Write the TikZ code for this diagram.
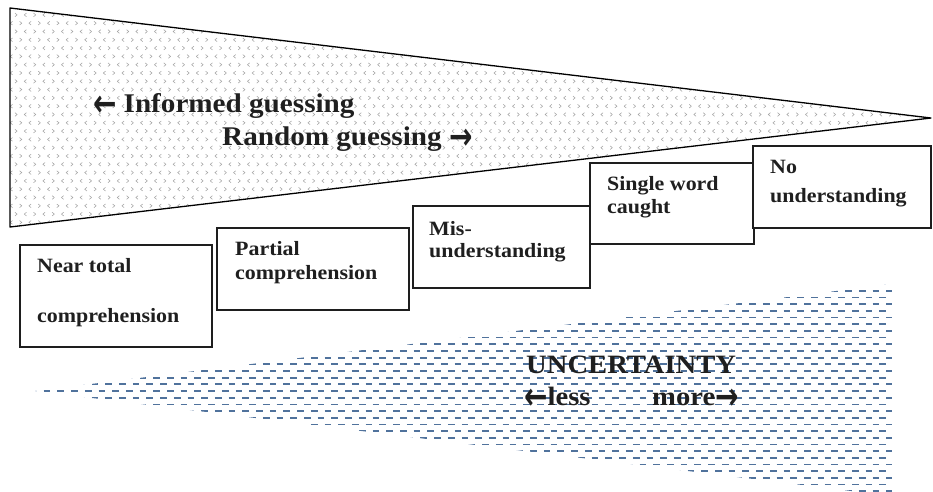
\documentclass[tikz,border=0pt]{standalone}
\usepackage{fontspec}
\setmainfont{Liberation Serif}[FakeStretch=1.08]
\newfontfamily\arrowfont{DejaVu Sans}
\usetikzlibrary{patterns}

% small grey chevrons used to shade the guessing wedge
\pgfdeclarepatternformonly{chevrons}{\pgfpoint{-1pt}{-1pt}}{\pgfpoint{19.6pt}{17.6pt}}{\pgfpoint{18.6pt}{16.6pt}}{%
  \pgfsetlinewidth{0.55pt}%
  % '>' and '<' in the lower row
  \pgfpathmoveto{\pgfpoint{1pt}{4.8pt}}\pgfpathlineto{\pgfpoint{3.2pt}{3pt}}\pgfpathlineto{\pgfpoint{1pt}{1.2pt}}%
  \pgfpathmoveto{\pgfpoint{12.5pt}{4.8pt}}\pgfpathlineto{\pgfpoint{10.3pt}{3pt}}\pgfpathlineto{\pgfpoint{12.5pt}{1.2pt}}%
  % '<' and '>' in the upper row
  \pgfpathmoveto{\pgfpoint{7.85pt}{13.1pt}}\pgfpathlineto{\pgfpoint{5.65pt}{11.3pt}}\pgfpathlineto{\pgfpoint{7.85pt}{9.5pt}}%
  \pgfpathmoveto{\pgfpoint{14.95pt}{13.1pt}}\pgfpathlineto{\pgfpoint{17.15pt}{11.3pt}}\pgfpathlineto{\pgfpoint{14.95pt}{9.5pt}}%
  \pgfusepath{stroke}%
}

\definecolor{dashblue}{RGB}{80,114,156}
\definecolor{boxline}{RGB}{30,30,30}

\tikzset{
  stage/.style={draw=boxline, line width=1.6pt, fill=white, inner sep=0pt, anchor=north west},
  stagetext/.style={font=\fontsize{20.3}{24}\selectfont\bfseries, text=black!88, anchor=base west, inner sep=0pt},
  headtext/.style={font=\fontsize{27}{32}\selectfont\bfseries, text=black!88, anchor=base west, inner sep=0pt},
  scaletext/.style={font=\fontsize{26.5}{32}\selectfont\bfseries, text=black!88, anchor=base west, inner sep=0pt},
  dashrow/.style={draw=dashblue, line width=1.7pt, dash pattern=on 6.7pt off 7pt}
}
\newcommand{\arrL}{\raisebox{-4.5pt}{\scalebox{1}[1.35]{\arrowfont\bfseries\fontsize{28}{30}\selectfont ←}}}
\newcommand{\arrR}{\raisebox{-4.5pt}{\scalebox{1}[1.35]{\arrowfont\bfseries\fontsize{28}{30}\selectfont →}}}

\begin{document}
\begin{tikzpicture}[x=1pt, y=-1pt]
\useasboundingbox (0,0) rectangle (933,491);

% guessing wedge
\draw[line width=1.3pt, line join=round, pattern=chevrons, pattern color=black!36]
  (10,8) -- (931,118) -- (10,227) -- cycle;

% uncertainty wedge, shaded with staggered blue dashes
\begin{scope}
  \clip (35,391) -- (892,284) -- (892,496) -- cycle;
  \foreach \m [evaluate=\m as \yy using {391+6.67*\m},
               evaluate=\m as \ph using {mod(abs(\m),2)*6.85}] in {-16,...,16}
    \draw[dashrow, dash phase=\ph pt] (30,\yy) -- (895,\yy);
\end{scope}

% stages of comprehension
\node[stage, minimum width=192pt, minimum height=102pt] (near)    at (19,244)  {};
\node[stage, minimum width=192pt, minimum height=82pt]  (partial) at (216,227) {};
\node[stage, minimum width=177pt, minimum height=82pt]  (mis)     at (412,205) {};
\node[stage, minimum width=164pt, minimum height=81pt]  (single)  at (589,162) {};
\node[stage, minimum width=178pt, minimum height=82pt]  (none)    at (752,145) {};

\node[stagetext] (near1)    at ([shift={(18,28)}]near.north west)    {Near total};
\node[stagetext] (near2)    at ([shift={(18,78)}]near.north west)    {comprehension};
\node[stagetext] (partial1) at ([shift={(19,28)}]partial.north west) {Partial};
\node[stagetext] (partial2) at ([shift={(19,52)}]partial.north west) {comprehension};
\node[stagetext] (mis1)     at ([shift={(17,30)}]mis.north west)     {Mis-};
\node[stagetext] (mis2)     at ([shift={(17,52)}]mis.north west)     {understanding};
\node[stagetext] (single1)  at ([shift={(18,28)}]single.north west)  {Single word};
\node[stagetext] (single2)  at ([shift={(18,51)}]single.north west)  {caught};
\node[stagetext] (none1)    at ([shift={(18,28)}]none.north west)    {No};
\node[stagetext] (none2)    at ([shift={(18,57)}]none.north west)    {understanding};

% labels on the guessing wedge
\node[headtext] (informed) at (93,112)  {\arrL\hspace{7pt}Informed guessing};
\node[headtext] (random)   at (222,145) {Random guessing\hspace{8pt}\arrR};

% labels on the uncertainty wedge
\node[scaletext] (uncert) at (526,373) {UNCERTAINTY};
\node[scaletext] (less)   at (524,405) {\arrL less};
\node[scaletext] (more)   at (652,405) {more\arrR};
\end{tikzpicture}
\end{document}
